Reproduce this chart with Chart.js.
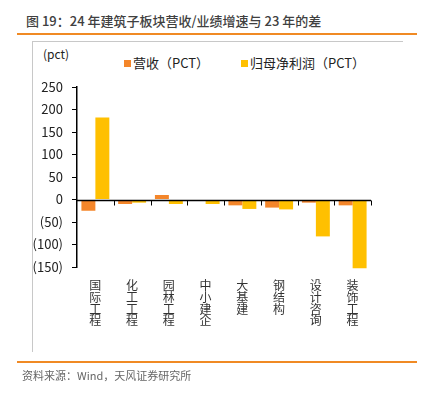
<!DOCTYPE html>
<html>
<head>
<meta charset="utf-8">
<script src="https://cdn.jsdelivr.net/npm/chart.js@4"></script>
<style>
  html, body { margin: 0; padding: 0; background: #fff; }
  body { width: 421px; height: 397px; position: relative; overflow: hidden;
         font-family: "Noto Sans CJK SC", "Noto Sans", sans-serif; color: #333; }
  #title { position: absolute; left: 26px; top: 11px; font-size: 13px; font-weight: 500; color: #404040; white-space: nowrap; }
  .orange-line { position: absolute; left: 17px; right: 4px; height: 1.5px; background: #f08a24; }
  #frame { position: absolute; left: 32px; top: 41px; width: 370px; height: 310px;
           border-left: 1px solid #c8c8c8; border-top: 1px solid #c8c8c8; }
  #unit { position: absolute; left: 43px; top: 45px; font-size: 12px; color: #222; }
  .legend { position: absolute; top: 53px; font-size: 13px; color: #222; white-space: nowrap; }
  .legend i { display: inline-block; width: 7px; height: 7px; margin-right: 2px; vertical-align: 1px; }
  #source { position: absolute; left: 22px; top: 367px; font-size: 11px; color: #666; white-space: nowrap; }
  #chart { position: absolute; left: 0; top: 0; }
</style>
</head>
<body>
<div id="title">图 19：24 年建筑子板块营收/业绩增速与 23 年的差</div>
<div class="orange-line" style="top:33px"></div>
<div id="frame"></div>
<div id="unit">(pct)</div>
<div class="legend" style="left:124px"><i style="background:#f4862a"></i>营收（PCT）</div>
<div class="legend" style="left:241px"><i style="background:#ffc000"></i>归母净利润（PCT）</div>
<canvas id="chart" width="421" height="397"></canvas>
<div class="orange-line" style="top:361px"></div>
<div id="source">资料来源：Wind，天风证券研究所</div>

<script>
// categories and values (pct difference vs 2023)
const categories = ["国际工程", "化工工程", "园林工程", "中小建企", "大基建", "钢结构", "设计咨询", "装饰工程"];
const revenue = [-25, -10, 10, -3, -13, -18, -7, -13];
const netProfit = [182, -7, -10, -10, -21, -22, -82, -153];
const yTicks = [250, 200, 150, 100, 50, 0, -50, -100, -150];

// draw the zero line with small ticks at category boundaries
const zeroLine = {
  id: "zeroLine",
  afterDatasetsDraw(chart) {
    const ctx = chart.ctx;
    const x = chart.scales.x, y = chart.scales.y;
    const y0 = Math.round(y.getPixelForValue(0)) + 0.5;
    const area = chart.chartArea;
    ctx.save();
    ctx.strokeStyle = "#000";
    ctx.lineWidth = 1.5;
    ctx.beginPath();
    ctx.moveTo(area.left, y0);
    ctx.lineTo(area.right, y0);
    ctx.stroke();
    ctx.lineWidth = 1;
    for (let i = 1; i <= categories.length; i++) {
      let bx = i < categories.length
        ? (x.getPixelForValue(i - 1) + x.getPixelForValue(i)) / 2
        : area.right;
      bx = Math.round(bx) + 0.5;
      ctx.beginPath();
      ctx.moveTo(bx, y0);
      ctx.lineTo(bx, y0 + 5);
      ctx.stroke();
    }
    ctx.restore();
  }
};

new Chart(document.getElementById("chart"), {
  type: "bar",
  data: {
    labels: categories.map(c => c.split("")),
    datasets: [
      { label: "营收（PCT）", data: revenue, backgroundColor: "#f4862a", clip: false },
      { label: "归母净利润（PCT）", data: netProfit, backgroundColor: "#ffc000", clip: false }
    ]
  },
  options: {
    responsive: false,
    animation: false,
    devicePixelRatio: 1,
    categoryPercentage: 0.76,
    barPercentage: 1.0,
    layout: { padding: { left: 0, right: 50, top: 87, bottom: 60 } },
    plugins: { legend: { display: false }, tooltip: { enabled: false } },
    scales: {
      x: {
        grid: { display: false },
        border: { display: false },
        ticks: {
          autoSkip: false, maxRotation: 0, padding: 5, color: "#333",
          font: { family: "Noto Sans CJK SC", size: 12, lineHeight: 0.97 }
        },
        afterFit: s => { s.height = 70; }
      },
      y: {
        min: -150, max: 250,
        afterBuildTicks: s => { s.ticks = yTicks.map(v => ({ value: v })); },
        grid: { drawOnChartArea: false, drawTicks: true, tickLength: 5, color: "#000" },
        border: { display: true, color: "#000", width: 1.5 },
        ticks: {
          padding: 9, color: "#222",
          font: { family: "Noto Sans CJK SC", size: 13 },
          callback: v => v < 0 ? "(" + (-v) + ")" : String(v)
        },
        afterFit: s => { s.width = 77; }
      }
    }
  },
  plugins: [zeroLine]
});
</script>
</body>
</html>
